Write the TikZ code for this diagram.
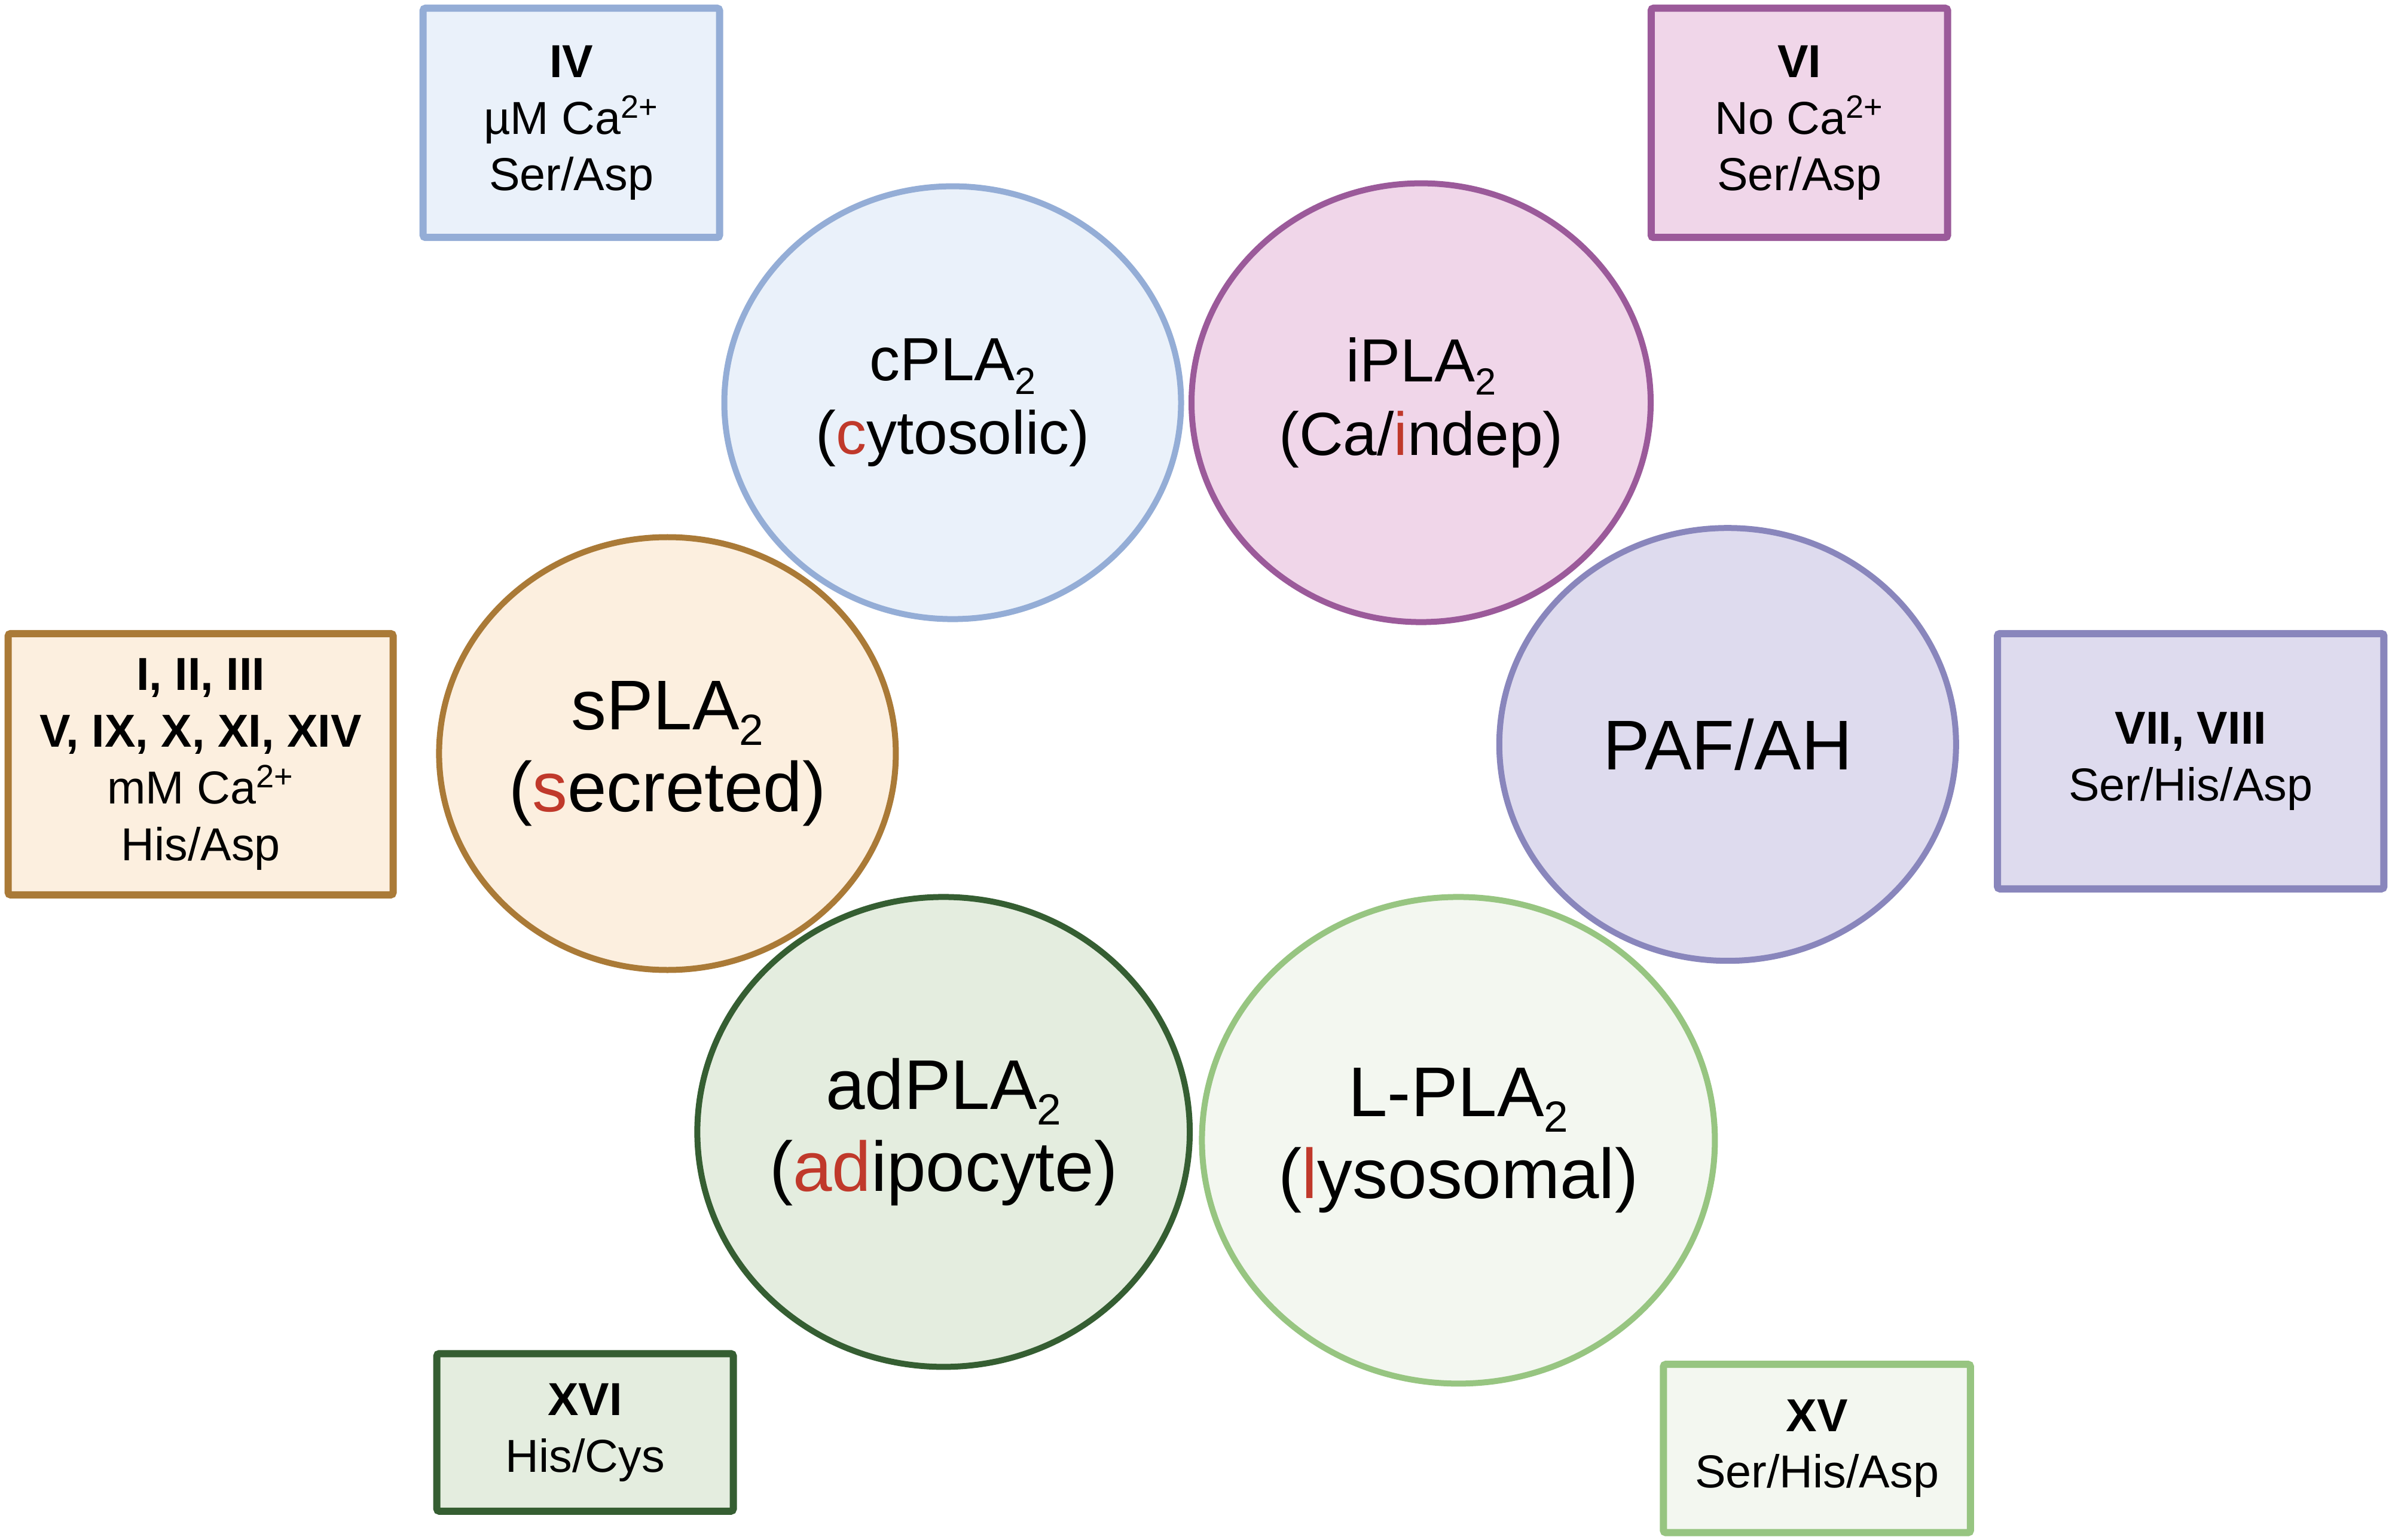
\documentclass[tikz,border=0pt]{standalone}
\usepackage{fontspec}
\setmainfont{Liberation Sans}
\usetikzlibrary{shapes.geometric}
\definecolor{cfill}{HTML}{EAF1FA}\definecolor{cline}{HTML}{94ADD6}
\definecolor{ifill}{HTML}{F0D6E9}\definecolor{iline}{HTML}{9B5A9A}
\definecolor{pfill}{HTML}{DEDBEE}\definecolor{pline}{HTML}{8986BC}
\definecolor{sfill}{HTML}{FCEFDF}\definecolor{sline}{HTML}{AA7A37}
\definecolor{afill}{HTML}{E4EDDF}\definecolor{aline}{HTML}{355E32}
\definecolor{lfill}{HTML}{F3F7F0}\definecolor{lline}{HTML}{97C581}
\definecolor{hl}{HTML}{C0392B}
\tikzset{
  enz/.style={ellipse, draw, line width=0.1cm, inner sep=0pt, align=center,
    font=\fontsize{29}{35}\selectfont},
  bigtxt/.style={font=\fontsize{33.5}{39}\selectfont},
  grp/.style={rectangle, draw, line width=0.12cm, rounded corners=0.04cm, inner sep=0pt, align=center,
    font=\fontsize{22}{27}\selectfont}
}
\newcommand{\hlt}[1]{\textcolor{hl}{#1}}
\newcommand{\sbtwo}{\raisebox{-0.22em}{\scalebox{0.62}{2}}}
\begin{document}
\begin{tikzpicture}
\useasboundingbox (0,0) rectangle (40.01,-25.76);
% ellipses
\node[enz, draw=cline, fill=cfill, minimum width=7.64cm, minimum height=7.24cm] (cpla) at (15.935,-6.736) {cPLA\sbtwo\\(\hlt{c}ytosolic)};
\node[enz, draw=iline, fill=ifill, minimum width=7.68cm, minimum height=7.34cm] (ipla) at (23.77,-6.736) {iPLA\sbtwo\\(Ca/\hlt{i}ndep)};
\node[enz, bigtxt, draw=pline, fill=pfill, minimum width=7.64cm, minimum height=7.24cm] (paf) at (28.898,-12.452) {PAF/AH};
\node[enz, bigtxt, draw=sline, fill=sfill, minimum width=7.64cm, minimum height=7.24cm] (spla) at (11.164,-12.605) {sPLA\sbtwo\\(\hlt{s}ecreted)};
\node[enz, bigtxt, draw=lline, fill=lfill, minimum width=8.58cm, minimum height=8.14cm] (lpla) at (24.394,-19.074) {L-PLA\sbtwo\\(\hlt{l}ysosomal)};
\node[enz, bigtxt, draw=aline, fill=afill, minimum width=8.20cm, minimum height=7.86cm] (adpla) at (15.782,-18.934) {adPLA\sbtwo\\(\hlt{ad}ipocyte)};
% boxes
\node[grp, draw=cline, fill=cfill, minimum width=4.958cm, minimum height=3.835cm] (g4) at (9.556,-2.055) {\textbf{IV}\\µM Ca\textsuperscript{2+}\\Ser/Asp};
\node[grp, draw=iline, fill=ifill, minimum width=4.958cm, minimum height=3.835cm] (g6) at (30.097,-2.055) {\textbf{VI}\\No Ca\textsuperscript{2+}\\Ser/Asp};
\node[grp, draw=sline, fill=sfill, minimum width=6.438cm, minimum height=4.37cm] (gs) at (3.356,-12.784) {\textbf{I, II, III}\\\textbf{V, IX, X, XI, XIV}\\mM Ca\textsuperscript{2+}\\His/Asp};
\node[grp, draw=pline, fill=pfill, minimum width=6.464cm, minimum height=4.269cm] (g7) at (36.642,-12.733) {\textbf{VII, VIII}\\Ser/His/Asp};
\node[grp, draw=aline, fill=afill, minimum width=4.958cm, minimum height=2.635cm] (g16) at (9.786,-23.96) {\textbf{XVI}\\His/Cys};
\node[grp, draw=lline, fill=lfill, minimum width=5.136cm, minimum height=2.815cm] (g15) at (30.391,-24.229) {\textbf{XV}\\Ser/His/Asp};
\end{tikzpicture}
\end{document}
